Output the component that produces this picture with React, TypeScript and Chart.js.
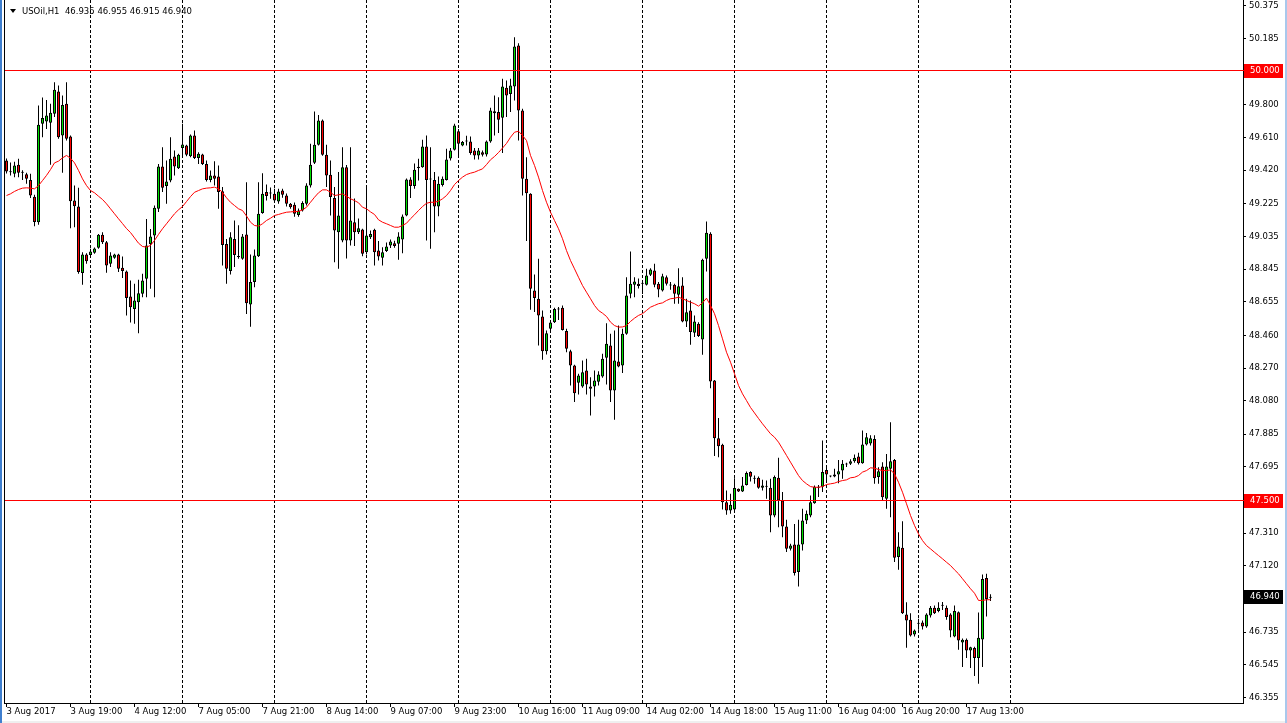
import React, { useEffect, useRef } from "react";
import { Chart, registerables } from "chart.js";

Chart.register(...registerables);

// ---- data (USOil, H1) ----
const opens = [
  49.477, 49.412, 49.400, 49.452, 49.410, 49.397, 49.364, 49.266, 49.118, 49.690,
  49.703, 49.696, 49.748, 49.878, 49.622, 49.806, 49.616, 49.244, 49.209, 48.822,
  48.930, 48.928, 48.940, 48.969, 49.045, 49.002, 48.876, 48.911, 48.930, 48.853,
  48.831, 48.686, 48.614, 48.653, 48.702, 48.789, 48.992, 49.041, 49.196, 49.442,
  49.328, 49.360, 49.500, 49.432, 49.550, 49.564, 49.502, 49.622, 49.492, 49.512,
  49.457, 49.364, 49.390, 49.384, 49.298, 48.992, 48.834, 49.021, 48.920, 48.905,
  49.047, 48.640, 48.770, 48.920, 49.172, 49.293, 49.290, 49.283, 49.239, 49.302,
  49.273, 49.225, 49.220, 49.160, 49.186, 49.225, 49.331, 49.463, 49.568, 49.709,
  49.510, 49.394, 49.258, 49.060, 49.012, 49.438, 49.012, 49.118, 49.060, 49.076,
  48.944, 49.030, 49.074, 48.953, 48.911, 48.950, 48.983, 48.996, 48.993, 49.017,
  49.157, 49.366, 49.328, 49.433, 49.438, 49.558, 49.370, 49.364, 49.209, 49.335,
  49.364, 49.488, 49.539, 49.647, 49.564, 49.587, 49.587, 49.535, 49.506, 49.525,
  49.512, 49.587, 49.763, 49.758, 49.725, 49.899, 49.864, 49.907, 50.145, 49.767,
  49.370, 49.283, 48.721, 48.673, 48.570, 48.368, 48.498, 48.537, 48.612, 48.620,
  48.485, 48.368, 48.285, 48.184, 48.163, 48.256, 48.163, 48.163, 48.190, 48.221,
  48.330, 48.401, 48.140, 48.308, 48.285, 48.469, 48.702, 48.754, 48.760, 48.760,
  48.754, 48.812, 48.837, 48.760, 48.721, 48.798, 48.752, 48.754, 48.696, 48.750,
  48.540, 48.605, 48.475, 48.527, 48.436, 48.905, 49.051, 48.198, 47.862, 47.824,
  47.490, 47.442, 47.448, 47.568, 47.552, 47.590, 47.665, 47.626, 47.632, 47.574,
  47.580, 47.574, 47.413, 47.632, 47.500, 47.349, 47.219, 47.244, 47.084, 47.244,
  47.384, 47.413, 47.484, 47.580, 47.580, 47.678, 47.640, 47.640, 47.651, 47.674,
  47.710, 47.713, 47.728, 47.756, 47.717, 47.826, 47.832, 47.858, 47.637, 47.698,
  47.510, 47.684, 47.736, 47.171, 47.225, 46.837, 46.806, 46.721, 46.783, 46.791,
  46.767, 46.832, 46.876, 46.857, 46.890, 46.876, 46.837, 46.709, 46.851, 46.674,
  46.690, 46.628, 46.642, 46.585, 46.692, 47.050, 46.935,
];

const highs = [
  49.488, 49.465, 49.470, 49.487, 49.420, 49.405, 49.400, 49.277, 49.797, 49.843,
  49.829, 49.806, 49.932, 49.913, 49.855, 49.932, 49.622, 49.331, 49.318, 48.944,
  48.938, 48.963, 48.971, 49.050, 49.060, 49.008, 48.944, 48.934, 48.934, 48.919,
  48.837, 48.779, 48.760, 48.783, 48.818, 49.137, 49.079, 49.215, 49.457, 49.554,
  49.477, 49.612, 49.535, 49.516, 49.690, 49.568, 49.628, 49.651, 49.525, 49.516,
  49.477, 49.419, 49.473, 49.448, 49.322, 49.021, 49.060, 49.128, 49.100, 49.050,
  49.351, 48.930, 48.960, 49.350, 49.403, 49.337, 49.320, 49.312, 49.312, 49.312,
  49.285, 49.230, 49.233, 49.197, 49.240, 49.345, 49.574, 49.762, 49.742, 49.715,
  49.568, 49.477, 49.322, 49.410, 49.554, 49.450, 49.554, 49.256, 49.140, 49.080,
  49.330, 49.070, 49.080, 49.008, 48.973, 49.000, 49.018, 49.010, 49.060, 49.163,
  49.372, 49.380, 49.460, 49.487, 49.597, 49.622, 49.554, 49.410, 49.384, 49.384,
  49.545, 49.550, 49.690, 49.660, 49.590, 49.620, 49.616, 49.550, 49.550, 49.535,
  49.593, 49.783, 49.855, 49.845, 49.952, 49.942, 49.952, 50.194, 50.159, 49.777,
  49.496, 49.287, 48.814, 48.905, 48.605, 48.488, 48.545, 48.620, 48.625, 48.634,
  48.498, 48.376, 48.289, 48.237, 48.314, 48.324, 48.217, 48.256, 48.252, 48.353,
  48.531, 48.469, 48.488, 48.517, 48.498, 48.798, 48.948, 48.798, 48.790, 48.770,
  48.847, 48.850, 48.876, 48.770, 48.818, 48.808, 48.770, 48.760, 48.850, 48.798,
  48.673, 48.663, 48.576, 48.537, 48.905, 49.122, 49.060, 48.200, 47.979, 47.830,
  47.558, 47.539, 47.630, 47.570, 47.636, 47.668, 47.670, 47.645, 47.640, 47.620,
  47.616, 47.626, 47.645, 47.748, 47.549, 47.388, 47.248, 47.364, 47.388, 47.452,
  47.442, 47.529, 47.587, 47.590, 47.849, 47.703, 47.645, 47.684, 47.736, 47.736,
  47.720, 47.740, 47.767, 47.777, 47.907, 47.892, 47.880, 47.880, 47.694, 47.723,
  47.771, 47.955, 47.742, 47.316, 47.380, 46.909, 46.845, 46.750, 46.812, 46.802,
  46.845, 46.886, 46.890, 46.909, 46.910, 46.890, 46.845, 46.890, 46.855, 46.697,
  46.697, 46.650, 46.650, 46.849, 47.070, 47.074, 46.955,
];

const lows = [
  49.401, 49.390, 49.380, 49.380, 49.364, 49.341, 49.258, 49.095, 49.103, 49.612,
  49.660, 49.452, 49.729, 49.603, 49.405, 49.593, 49.083, 49.089, 48.818, 48.754,
  48.876, 48.915, 48.934, 48.963, 48.992, 48.824, 48.857, 48.905, 48.828, 48.793,
  48.576, 48.535, 48.527, 48.473, 48.682, 48.682, 48.731, 48.682, 49.177, 49.293,
  49.225, 49.351, 49.390, 49.428, 49.496, 49.502, 49.496, 49.486, 49.457, 49.450,
  49.355, 49.351, 49.331, 49.196, 48.866, 48.760, 48.814, 48.857, 48.905, 48.900,
  48.585, 48.510, 48.740, 48.915, 49.167, 49.244, 49.254, 49.234, 49.225, 49.260,
  49.210, 49.196, 49.150, 49.150, 49.180, 49.215, 49.320, 49.457, 49.564, 49.505,
  49.322, 49.157, 48.885, 48.847, 49.002, 48.907, 48.983, 48.980, 49.050, 48.920,
  48.930, 49.020, 48.866, 48.895, 48.866, 48.945, 48.968, 48.970, 48.900, 48.938,
  49.153, 49.258, 49.312, 49.360, 49.434, 49.012, 48.963, 49.060, 49.153, 49.326,
  49.360, 49.477, 49.535, 49.506, 49.560, 49.564, 49.510, 49.483, 49.483, 49.500,
  49.500, 49.580, 49.622, 49.636, 49.520, 49.730, 49.758, 49.826, 49.593, 49.273,
  49.008, 48.609, 48.596, 48.401, 48.318, 48.349, 48.480, 48.532, 48.550, 48.488,
  48.362, 48.169, 48.072, 48.117, 48.155, 48.117, 47.994, 48.105, 48.169, 48.214,
  48.174, 48.072, 47.969, 48.275, 48.242, 48.464, 48.676, 48.682, 48.733, 48.700,
  48.750, 48.805, 48.740, 48.682, 48.715, 48.750, 48.725, 48.644, 48.644, 48.537,
  48.508, 48.405, 48.450, 48.450, 48.347, 48.831, 48.153, 47.758, 47.752, 47.448,
  47.417, 47.423, 47.442, 47.550, 47.549, 47.587, 47.610, 47.597, 47.568, 47.558,
  47.510, 47.316, 47.403, 47.345, 47.287, 47.200, 47.209, 47.064, 47.000, 47.209,
  47.364, 47.403, 47.481, 47.520, 47.549, 47.607, 47.635, 47.635, 47.600, 47.626,
  47.695, 47.707, 47.720, 47.709, 47.713, 47.820, 47.820, 47.598, 47.598, 47.500,
  47.452, 47.403, 47.142, 47.097, 46.840, 46.644, 46.709, 46.710, 46.748, 46.750,
  46.760, 46.820, 46.840, 46.850, 46.864, 46.806, 46.705, 46.705, 46.632, 46.532,
  46.585, 46.526, 46.480, 46.435, 46.532, 46.826, 46.915,
];

const closes = [
  49.413, 49.408, 49.448, 49.405, 49.406, 49.370, 49.273, 49.119, 49.684, 49.724,
  49.738, 49.754, 49.888, 49.612, 49.800, 49.603, 49.240, 49.211, 48.828, 48.930,
  48.891, 48.948, 48.965, 49.045, 49.002, 48.866, 48.924, 48.930, 48.847, 48.834,
  48.678, 48.624, 48.663, 48.705, 48.779, 48.983, 49.035, 49.202, 49.442, 49.318,
  49.355, 49.487, 49.442, 49.510, 49.570, 49.510, 49.622, 49.492, 49.516, 49.457,
  49.364, 49.390, 49.370, 49.293, 48.986, 48.847, 49.031, 48.928, 48.915, 49.035,
  48.647, 48.770, 48.925, 49.167, 49.283, 49.270, 49.285, 49.244, 49.297, 49.277,
  49.225, 49.205, 49.167, 49.186, 49.230, 49.331, 49.452, 49.568, 49.709, 49.510,
  49.390, 49.264, 49.070, 49.157, 49.438, 49.012, 49.128, 49.060, 49.083, 48.935,
  49.041, 49.050, 48.944, 48.919, 48.944, 48.977, 49.006, 48.980, 49.035, 49.151,
  49.366, 49.328, 49.423, 49.440, 49.558, 49.364, 49.366, 49.209, 49.341, 49.370,
  49.483, 49.535, 49.680, 49.574, 49.584, 49.590, 49.520, 49.506, 49.535, 49.510,
  49.587, 49.767, 49.752, 49.713, 49.907, 49.855, 49.913, 50.140, 49.767, 49.370,
  49.287, 48.731, 48.678, 48.576, 48.368, 48.473, 48.535, 48.614, 48.610, 48.492,
  48.382, 48.285, 48.124, 48.227, 48.246, 48.174, 48.150, 48.198, 48.233, 48.324,
  48.411, 48.140, 48.314, 48.279, 48.469, 48.692, 48.760, 48.773, 48.747, 48.765,
  48.808, 48.843, 48.754, 48.727, 48.804, 48.760, 48.750, 48.702, 48.746, 48.540,
  48.595, 48.479, 48.541, 48.456, 48.900, 49.057, 48.192, 47.862, 47.816, 47.490,
  47.442, 47.475, 47.572, 47.552, 47.587, 47.660, 47.638, 47.627, 47.574, 47.587,
  47.580, 47.413, 47.636, 47.500, 47.349, 47.219, 47.238, 47.078, 47.244, 47.384,
  47.423, 47.490, 47.580, 47.574, 47.665, 47.651, 47.640, 47.651, 47.670, 47.713,
  47.710, 47.728, 47.748, 47.717, 47.826, 47.868, 47.862, 47.630, 47.670, 47.519,
  47.698, 47.728, 47.167, 47.233, 46.845, 46.802, 46.715, 46.744, 46.785, 46.767,
  46.837, 46.876, 46.845, 46.876, 46.888, 46.822, 46.744, 46.857, 46.686, 46.690,
  46.628, 46.647, 46.585, 46.702, 47.044, 46.928, 46.940,
];

const maValues = [
  49.273, 49.283, 49.297, 49.308, 49.316, 49.318, 49.316, 49.312, 49.331, 49.360,
  49.390, 49.424, 49.463, 49.473, 49.492, 49.506, 49.490, 49.463, 49.419, 49.370,
  49.331, 49.302, 49.289, 49.269, 49.250, 49.225, 49.196, 49.167, 49.138, 49.110,
  49.081, 49.058, 49.027, 48.996, 48.977, 48.973, 48.983, 49.012, 49.047, 49.080,
  49.109, 49.138, 49.167, 49.190, 49.209, 49.238, 49.267, 49.292, 49.302, 49.312,
  49.316, 49.318, 49.322, 49.312, 49.292, 49.260, 49.234, 49.215, 49.196, 49.186,
  49.154, 49.118, 49.099, 49.095, 49.109, 49.128, 49.141, 49.157, 49.163, 49.170,
  49.176, 49.178, 49.180, 49.180, 49.190, 49.205, 49.234, 49.263, 49.289, 49.306,
  49.306, 49.292, 49.273, 49.277, 49.283, 49.269, 49.254, 49.244, 49.231, 49.205,
  49.196, 49.178, 49.163, 49.132, 49.118, 49.109, 49.099, 49.089, 49.089, 49.099,
  49.112, 49.138, 49.161, 49.186, 49.209, 49.228, 49.234, 49.234, 49.240, 49.254,
  49.273, 49.302, 49.337, 49.360, 49.380, 49.395, 49.403, 49.409, 49.419, 49.428,
  49.453, 49.481, 49.500, 49.523, 49.549, 49.576, 49.612, 49.641, 49.647, 49.622,
  49.593, 49.506, 49.448, 49.380, 49.302, 49.234, 49.176, 49.128, 49.080, 49.022,
  48.953, 48.895, 48.847, 48.798, 48.750, 48.711, 48.673, 48.634, 48.605, 48.589,
  48.570, 48.537, 48.517, 48.508, 48.509, 48.517, 48.541, 48.560, 48.576, 48.586,
  48.605, 48.624, 48.634, 48.644, 48.649, 48.663, 48.673, 48.676, 48.682, 48.673,
  48.663, 48.653, 48.644, 48.630, 48.649, 48.676, 48.634, 48.586, 48.517, 48.440,
  48.362, 48.304, 48.237, 48.169, 48.120, 48.081, 48.041, 48.009, 47.977, 47.946,
  47.917, 47.888, 47.868, 47.839, 47.801, 47.762, 47.723, 47.684, 47.645, 47.616,
  47.597, 47.581, 47.577, 47.577, 47.581, 47.593, 47.597, 47.601, 47.610, 47.616,
  47.620, 47.632, 47.635, 47.645, 47.665, 47.674, 47.690, 47.688, 47.680, 47.674,
  47.674, 47.678, 47.655, 47.606, 47.548, 47.481, 47.413, 47.355, 47.306, 47.267,
  47.238, 47.219, 47.199, 47.180, 47.161, 47.141, 47.122, 47.097, 47.074, 47.045,
  47.016, 46.987, 46.961, 46.919, 46.919, 46.923, 46.923,
];

const timeLabels = [
  "3 Aug 2017", "3 Aug 19:00", "4 Aug 12:00", "7 Aug 05:00", "7 Aug 21:00",
  "8 Aug 14:00", "9 Aug 07:00", "9 Aug 23:00", "10 Aug 16:00", "11 Aug 09:00",
  "14 Aug 02:00", "14 Aug 18:00", "15 Aug 11:00", "16 Aug 04:00", "16 Aug 20:00",
  "17 Aug 13:00",
];
const labelBars = [0, 16, 32, 48, 64, 80, 96, 112, 128, 144, 160, 176, 192, 208, 224, 240];
const gridBars = [21, 44, 67, 90, 113, 136, 159, 182, 205, 228, 251];

const priceTicks = [
  50.375, 50.185, 49.8, 49.61, 49.42, 49.225, 49.035, 48.845, 48.655, 48.46,
  48.27, 48.08, 47.885, 47.695, 47.31, 47.12, 46.735, 46.545, 46.355,
];
const levelLines = [50.0, 47.5];
const lastPrice = 46.94;
const headerSymbol = "USOil,H1";
const headerOHLC = [46.935, 46.955, 46.915, 46.94];

// ---- view settings ----
const FONT = "DejaVu Sans";
const FONT_SIZE = 8.5;
const XMIN = -0.625;
const XMAX = 309.125;
const YMAX = 50.40988;
const YMIN = 46.32267;
const BULL = "#00e000";
const BEAR = "#ff0000";
const W = 1287;
const H = 723;

const decorPlugin = {
  id: "mtDecor",
  beforeDraw(chart: any) {
    const ctx = chart.ctx;
    ctx.save();
    ctx.fillStyle = "#ffffff";
    ctx.fillRect(0, 0, W, H);
    ctx.fillStyle = "#3f7fcf";
    ctx.fillRect(0, 0, 2, H);
    ctx.fillStyle = "#a9c8ec";
    ctx.fillRect(W - 2, 0, 2, H);
    ctx.fillStyle = "#efefef";
    ctx.fillRect(2, H - 2, W - 4, 2);
    ctx.restore();
  },
  beforeDatasetsDraw(chart: any) {
    const { ctx, chartArea } = chart;
    ctx.save();
    ctx.fillStyle = "#000";
    ctx.fillRect(chartArea.left, 0, 1, chartArea.bottom + 1);
    ctx.restore();
  },
  afterDatasetsDraw(chart: any) {
    const { ctx, chartArea } = chart;
    const ys = chart.scales.y;
    ctx.save();
    ctx.fillStyle = "#ff0000";
    levelLines.forEach((v) => {
      const py = Math.round(ys.getPixelForValue(v) - 0.5);
      ctx.fillRect(chartArea.left + 1, py, chartArea.right - chartArea.left, 1);
    });
    ctx.restore();
  },
  afterDraw(chart: any) {
    const { ctx, chartArea } = chart;
    const ys = chart.scales.y;
    ctx.save();
    ctx.font = `${FONT_SIZE}px "${FONT}"`;
    ctx.textBaseline = "middle";
    ctx.textAlign = "left";
    const boxes = [
      ...levelLines.map((v) => ({ v, bg: "#ff0000" })),
      { v: lastPrice, bg: "#000000" },
    ];
    boxes.forEach(({ v, bg }) => {
      const py = Math.round(ys.getPixelForValue(v) - 0.5);
      ctx.fillStyle = bg;
      ctx.fillRect(chartArea.right + 1, py - 6, 39, 14);
      ctx.fillStyle = "#ffffff";
      ctx.fillText(v.toFixed(3), chartArea.right + 7, py + 1);
    });
    // header
    ctx.fillStyle = "#000";
    ctx.beginPath();
    ctx.moveTo(10, 9);
    ctx.lineTo(16, 9);
    ctx.lineTo(13, 13);
    ctx.closePath();
    ctx.fill();
    ctx.fillText(
      `${headerSymbol}  ${headerOHLC.map((v) => v.toFixed(3)).join(" ")}`,
      chartArea.left + 18,
      12
    );
    ctx.restore();
  },
};

export default function App() {
  const ref = useRef<HTMLCanvasElement | null>(null);

  useEffect(() => {
    document.body.style.margin = "0";
    const canvas = ref.current;
    if (!canvas) return;
    const idx = opens.map((_, i) => i);
    const wickData = idx.map((i) => ({ x: i, y: [lows[i], highs[i]] }));
    const bodyData = idx.map((i) => ({ x: i, y: [opens[i], closes[i]] }));
    const bodyColors = idx.map((i) => (closes[i] >= opens[i] ? BULL : BEAR));
    const maData = idx.map((i) => ({ x: i, y: maValues[i] }));

    const tickFont = { family: FONT, size: FONT_SIZE };

    const chart = new Chart(canvas, {
      type: "bar",
      data: {
        datasets: [
          {
            type: "line",
            label: "MA",
            data: maData as any,
            borderColor: "#ff0000",
            borderWidth: 1,
            pointRadius: 0,
            tension: 0,
            fill: false,
            order: 1,
            xAxisID: "x",
            yAxisID: "y",
          } as any,
          {
            type: "bar",
            label: "Body",
            data: bodyData as any,
            backgroundColor: bodyColors,
            borderColor: "#000",
            borderWidth: 1,
            borderSkipped: false,
            barThickness: 3,
            minBarLength: 1,
            grouped: false,
            inflateAmount: 0,
            order: 2,
            xAxisID: "x",
            yAxisID: "y",
          } as any,
          {
            type: "bar",
            label: "Wick",
            data: wickData as any,
            backgroundColor: "#000",
            borderWidth: 0,
            barThickness: 1,
            minBarLength: 1,
            grouped: false,
            inflateAmount: 0,
            order: 3,
            xAxisID: "x",
            yAxisID: "y",
          } as any,
        ],
      },
      options: {
        responsive: false,
        animation: false,
        events: [],
        layout: { autoPadding: false, padding: { left: 4, top: 0, right: 0, bottom: 0 } },
        plugins: {
          legend: { display: false },
          tooltip: { enabled: false },
          title: { display: false },
        },
        scales: {
          x: {
            type: "linear",
            position: "bottom",
            min: XMIN,
            max: XMAX,
            offset: false,
            afterBuildTicks: (s: any) => {
              s.ticks = labelBars.map((v) => ({ value: v }));
            },
            afterFit: (s: any) => {
              s.height = H - 703;
              s.paddingLeft = 0;
              s.paddingRight = 0;
            },
            ticks: {
              autoSkip: false,
              maxRotation: 0,
              minRotation: 0,
              align: "start",
              padding: 0,
              color: "#000",
              font: tickFont,
              callback: (_v: any, i: number) => timeLabels[i] ?? "",
            },
            grid: {
              offset: false,
              drawOnChartArea: false,
              drawTicks: true,
              tickLength: 4,
              tickColor: "#000",
              color: "#000",
            },
            border: { display: true, color: "#000", width: 1 },
          },
          xg: {
            type: "linear",
            position: "top",
            min: XMIN,
            max: XMAX,
            offset: false,
            afterBuildTicks: (s: any) => {
              s.ticks = gridBars.map((v) => ({ value: v }));
            },
            afterFit: (s: any) => {
              s.height = 0;
              s.paddingLeft = 0;
              s.paddingRight = 0;
            },
            ticks: { display: false, autoSkip: false },
            grid: { offset: false, drawOnChartArea: true, drawTicks: false, color: "#000", lineWidth: 1 },
            border: { display: false, dash: [3, 2] },
          },
          y: {
            type: "linear",
            position: "right",
            min: YMIN,
            max: YMAX,
            afterBuildTicks: (s: any) => {
              s.ticks = priceTicks.map((v) => ({ value: v }));
            },
            afterFit: (s: any) => {
              s.width = 44;
              s.paddingTop = 0;
              s.paddingBottom = 0;
            },
            ticks: {
              autoSkip: false,
              padding: 3,
              color: "#000",
              font: tickFont,
              callback: (v: any) => Number(v).toFixed(3),
            },
            grid: {
              drawOnChartArea: false,
              drawTicks: true,
              tickLength: 3,
              tickColor: "#000",
            },
            border: { display: true, color: "#000", width: 1 },
          },
        },
      } as any,
      plugins: [decorPlugin],
    });
    return () => chart.destroy();
  }, []);

  return (
    <div style={{ position: "fixed", left: 0, top: 0, width: W, height: H, background: "#fff" }}>
      <canvas ref={ref} width={W} height={H} style={{ display: "block", width: W, height: H }} />
    </div>
  );
}
